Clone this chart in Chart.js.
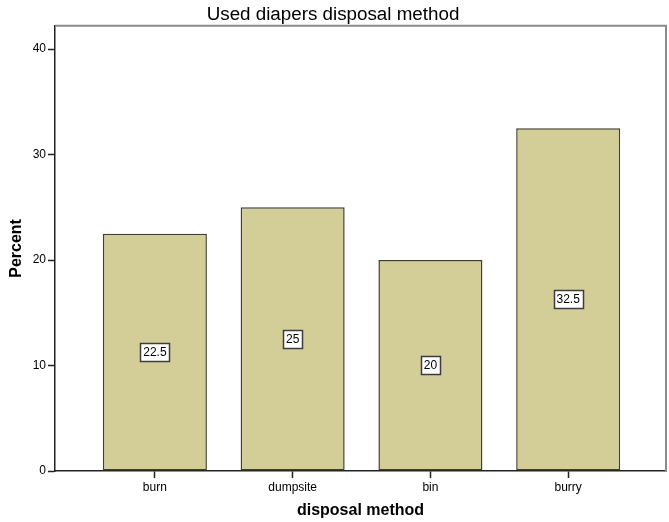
<!DOCTYPE html>
<html>
<head>
<meta charset="utf-8">
<script src="https://cdn.jsdelivr.net/npm/chart.js@4"></script>
<style>
  html, body { margin: 0; padding: 0; background: #fff; }
  #wrap { width: 669px; height: 522px; }
</style>
</head>
<body>
<div id="wrap"><canvas id="chart" width="669" height="522"></canvas></div>
<script>
const categories = ['burn', 'dumpsite', 'bin', 'burry'];
const percents = [22.5, 25, 20, 32.5];
const yTicks = [0, 10, 20, 30, 40];

const FONT = "Arial, 'Liberation Sans', sans-serif";

// grey frame on top and right of the plot area
const framePlugin = {
    id: 'frame',
    beforeDatasetsDraw(chart) {
        const { ctx, chartArea: a } = chart;
        ctx.save();
        ctx.strokeStyle = '#8a8a8a';
        ctx.lineWidth = 2;
        ctx.beginPath();
        ctx.moveTo(a.left, a.top);
        ctx.lineTo(a.right, a.top);
        ctx.lineTo(a.right, a.bottom);
        ctx.stroke();
        ctx.restore();
    }
};

// boxed value labels at half height of each bar
const boxLabels = {
    id: 'boxLabels',
    afterDatasetsDraw(chart) {
        const { ctx } = chart;
        const meta = chart.getDatasetMeta(0);
        ctx.save();
        ctx.font = '12px ' + FONT;
        ctx.textAlign = 'center';
        ctx.textBaseline = 'middle';
        meta.data.forEach((bar, i) => {
            const text = String(percents[i]);
            const cy = Math.round((bar.y + bar.base) / 2);
            const w = Math.round(ctx.measureText(text).width + 6);
            const h = 18;
            const x0 = Math.round(bar.x - w / 2) + 0.5;
            const y0 = cy - h / 2 + 0.5;
            ctx.fillStyle = '#ffffff';
            ctx.fillRect(x0, y0, w, h);
            ctx.strokeStyle = '#3c3c3c';
            ctx.lineWidth = 1.5;
            ctx.strokeRect(x0, y0, w, h);
            ctx.fillStyle = '#000000';
            ctx.fillText(text, bar.x, cy + 1);
        });
        ctx.restore();
    }
};

const ctx = document.getElementById('chart').getContext('2d');
new Chart(ctx, {
    type: 'bar',
    data: {
        datasets: [{
            label: 'Percent',
            data: percents.map((v, i) => ({ x: i, y: v })),
            backgroundColor: '#d3ce97',
            borderColor: '#3e3e30',
            borderWidth: 1.5,
            borderSkipped: false,
            categoryPercentage: 1,
            barPercentage: 0.755
        }]
    },
    options: {
        responsive: false,
        animation: false,
        layout: { padding: { left: 0, right: 3, top: 0, bottom: 0 } },
        plugins: {
            legend: { display: false },
            tooltip: { enabled: false },
            title: {
                display: true,
                text: 'Used diapers disposal method',
                color: '#000',
                font: { family: FONT, size: 18.8, weight: 'normal', lineHeight: 1 },
                padding: { top: 5, bottom: 2 }
            }
        },
        scales: {
            x: {
                type: 'linear',
                offset: false,
                min: -0.725,
                max: 3.71,
                afterBuildTicks(scale) {
                    scale.ticks = categories.map((c, i) => ({ value: i }));
                },
                afterFit(scale) { scale.height = 51; },
                ticks: {
                    callback: (v) => categories[v],
                    color: '#000',
                    font: { family: FONT, size: 12 },
                    padding: 2,
                    autoSkip: false,
                    maxRotation: 0
                },
                grid: {
                    offset: false,
                    drawOnChartArea: false,
                    tickLength: 7,
                    tickColor: '#222',
                    tickWidth: 1.5
                },
                border: { color: '#222', width: 1.5 },
                title: {
                    display: true,
                    text: 'disposal method',
                    color: '#000',
                    font: { family: FONT, size: 16, weight: 'bold' },
                    padding: { top: 0, bottom: 2 }
                }
            },
            y: {
                min: 0,
                max: 42.2,
                afterBuildTicks(scale) {
                    scale.ticks = yTicks.map(v => ({ value: v }));
                },
                afterFit(scale) { scale.width = 55; },
                ticks: {
                    color: '#000',
                    font: { family: FONT, size: 12 },
                    padding: 2
                },
                grid: {
                    drawOnChartArea: false,
                    tickLength: 7,
                    tickColor: '#222',
                    tickWidth: 1.5
                },
                border: { color: '#222', width: 1.5 },
                title: {
                    display: true,
                    text: 'Percent',
                    color: '#000',
                    font: { family: FONT, size: 16, weight: 'bold' },
                    padding: { top: 7, bottom: 0 }
                }
            }
        }
    },
    plugins: [framePlugin, boxLabels]
});
</script>
</body>
</html>
